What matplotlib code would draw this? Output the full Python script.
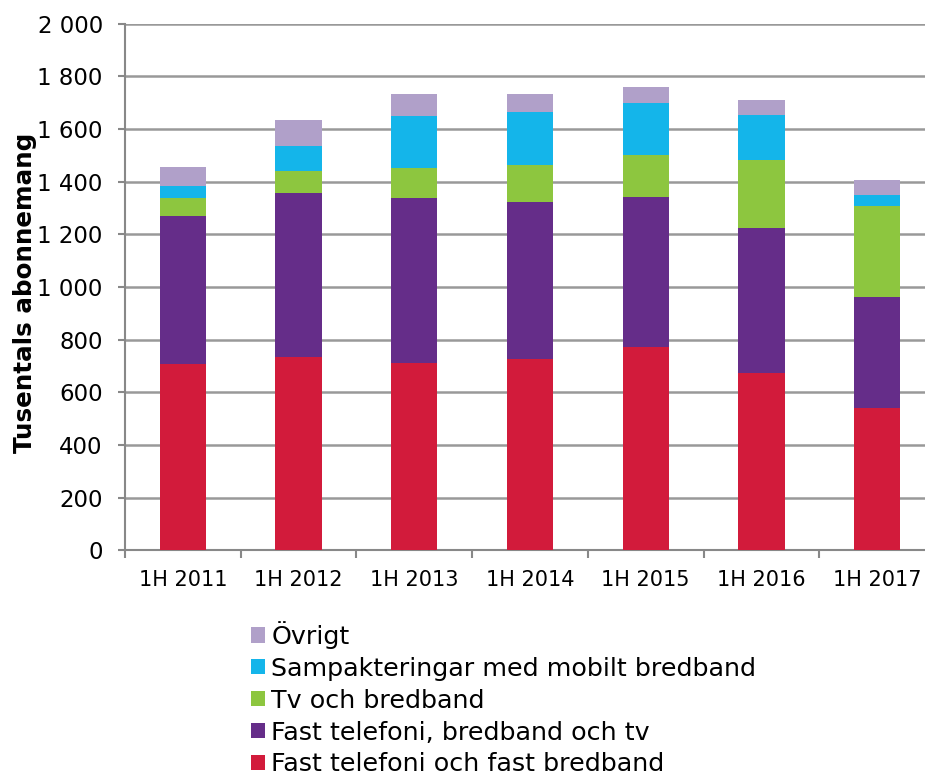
import matplotlib
matplotlib.use("Agg")
import matplotlib.pyplot as plt
from matplotlib.patches import Patch
import numpy as np

categories = ["1H 2011", "1H 2012", "1H 2013", "1H 2014", "1H 2015", "1H 2016", "1H 2017"]
fast_tel_bredband = [706, 733, 712, 727, 771, 674, 539]
fast_tel_bb_tv = [564, 623, 627, 597, 569, 549, 422]
tv_bredband = [67, 85, 114, 138, 160, 259, 346]
mobilt_bb = [47, 94, 197, 202, 200, 172, 42]
ovrigt = [70, 100, 81, 67, 60, 55, 57]

series = [
    ("Fast telefoni och fast bredband", fast_tel_bredband, "#D21B3B"),
    ("Fast telefoni, bredband och tv", fast_tel_bb_tv, "#652D89"),
    ("Tv och bredband", tv_bredband, "#8DC63F"),
    ("Sampakteringar med mobilt bredband", mobilt_bb, "#14B5EA"),
    ("Övrigt", ovrigt, "#B0A0C9"),
]
yticks = [0, 200, 400, 600, 800, 1000, 1200, 1400, 1600, 1800, 2000]
ytick_labels = ["0", "200", "400", "600", "800", "1 000", "1 200", "1 400", "1 600", "1 800", "2 000"]

W, H = 925, 776
fig = plt.figure(figsize=(W / 100, H / 100), dpi=100)
left, right, top, bottom = 125, 935, 23.6, 550.3
ax = fig.add_axes([left / W, 1 - bottom / H, (right - left) / W, (bottom - top) / H])

x = np.arange(len(categories))
base = np.zeros(len(categories))
for name, vals, col in series:
    ax.bar(x, vals, width=0.4, bottom=base, color=col, edgecolor="none", zorder=3)
    base += np.array(vals)

ax.set_xlim(-0.5, len(categories) - 0.5)
ax.set_ylim(0, 2000)
ax.set_yticks(yticks)
ax.set_yticklabels(ytick_labels, fontsize=16.5)
ax.set_xticks(x)
ax.set_xticklabels(categories, fontsize=15)
ax.tick_params(axis="x", length=0, pad=14)
ax.set_xticks(np.arange(-0.5, len(categories), 1), minor=True)
ax.tick_params(axis="x", which="minor", length=6, color="#888888", width=1.5, direction="out")
ax.tick_params(axis="y", length=5, color="#888888", width=1.5, direction="out", pad=11)

ax.yaxis.grid(True, color="#999999", linewidth=1.8, zorder=0)
ax.set_axisbelow(True)
for s in ["top", "right"]:
    ax.spines[s].set_visible(False)
for s in ["left", "bottom"]:
    ax.spines[s].set_color("#888888")
    ax.spines[s].set_linewidth(1.5)

ax.set_ylabel("Tusentals abonnemang", fontsize=17.7, fontweight="bold")
ax.yaxis.set_label_coords((37 - left) / (right - left), (bottom - 293) / (bottom - top))

handles = [Patch(facecolor=col, edgecolor="none", label=name) for name, _, col in series][::-1]
fig.legend(handles=handles, loc="upper left", bbox_to_anchor=(251 / W, 1 - 621 / H),
           frameon=False, fontsize=18.3, handlelength=0.55, handleheight=0.55,
           handletextpad=0.25, labelspacing=0.31, borderpad=0, borderaxespad=0)

fig.savefig("out.png", dpi=100)
